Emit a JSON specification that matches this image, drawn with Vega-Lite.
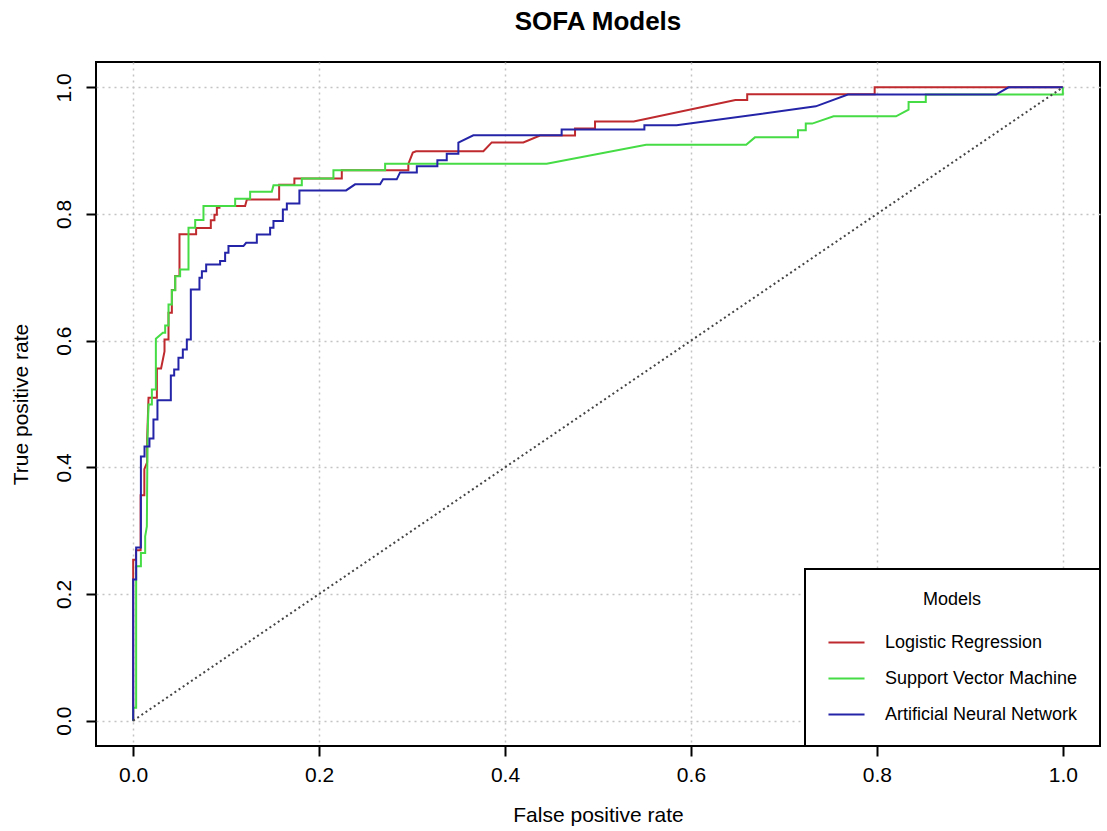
{
  "$schema": "https://vega.github.io/schema/vega-lite/v6.json",
  "width": 1004,
  "height": 684,
  "autosize": {"type": "none"},
  "padding": {"left": 96, "top": 62, "right": 7, "bottom": 85},
  "background": "white",
  "config": {
    "font": "Liberation Sans",
    "view": {"stroke": "black", "strokeWidth": 2},
    "axis": {
      "zindex": 1,
      "domain": false,
      "grid": true,
      "gridColor": "#c4c4c4",
      "gridDash": [2, 4],
      "gridWidth": 1.5,
      "tickColor": "black",
      "tickWidth": 2,
      "tickSize": 10,
      "labelFontSize": 21,
      "labelColor": "black",
      "titleFontSize": 21,
      "titleFontWeight": "normal",
      "titleColor": "black",
      "labelFont": "Liberation Sans",
      "titleFont": "Liberation Sans"
    }
  },
  "title": {"text": "SOFA Models", "fontSize": 26, "fontWeight": "bold", "color": "black", "offset": 27, "anchor": "middle", "font": "Liberation Sans"},
  "layer": [
    {
      "data": {"values": [
        {"model":"Logistic Regression","step":1,"fpr":0,"tpr":0},
        {"model":"Logistic Regression","step":2,"fpr":0,"tpr":0.254},
        {"model":"Logistic Regression","step":3,"fpr":0.003,"tpr":0.254},
        {"model":"Logistic Regression","step":4,"fpr":0.003,"tpr":0.269},
        {"model":"Logistic Regression","step":5,"fpr":0.008,"tpr":0.269},
        {"model":"Logistic Regression","step":6,"fpr":0.008,"tpr":0.356},
        {"model":"Logistic Regression","step":7,"fpr":0.012,"tpr":0.356},
        {"model":"Logistic Regression","step":8,"fpr":0.012,"tpr":0.397},
        {"model":"Logistic Regression","step":9,"fpr":0.015,"tpr":0.408},
        {"model":"Logistic Regression","step":10,"fpr":0.015,"tpr":0.444},
        {"model":"Logistic Regression","step":11,"fpr":0.0165,"tpr":0.51},
        {"model":"Logistic Regression","step":12,"fpr":0.0255,"tpr":0.51},
        {"model":"Logistic Regression","step":13,"fpr":0.0255,"tpr":0.556},
        {"model":"Logistic Regression","step":14,"fpr":0.03,"tpr":0.556},
        {"model":"Logistic Regression","step":15,"fpr":0.0337,"tpr":0.583},
        {"model":"Logistic Regression","step":16,"fpr":0.0337,"tpr":0.602},
        {"model":"Logistic Regression","step":17,"fpr":0.038,"tpr":0.602},
        {"model":"Logistic Regression","step":18,"fpr":0.038,"tpr":0.644},
        {"model":"Logistic Regression","step":19,"fpr":0.0416,"tpr":0.644},
        {"model":"Logistic Regression","step":20,"fpr":0.0416,"tpr":0.68},
        {"model":"Logistic Regression","step":21,"fpr":0.0452,"tpr":0.68},
        {"model":"Logistic Regression","step":22,"fpr":0.0452,"tpr":0.702},
        {"model":"Logistic Regression","step":23,"fpr":0.0498,"tpr":0.702},
        {"model":"Logistic Regression","step":24,"fpr":0.0498,"tpr":0.768},
        {"model":"Logistic Regression","step":25,"fpr":0.0677,"tpr":0.768},
        {"model":"Logistic Regression","step":26,"fpr":0.0677,"tpr":0.778},
        {"model":"Logistic Regression","step":27,"fpr":0.0835,"tpr":0.778},
        {"model":"Logistic Regression","step":28,"fpr":0.0835,"tpr":0.79},
        {"model":"Logistic Regression","step":29,"fpr":0.0874,"tpr":0.79},
        {"model":"Logistic Regression","step":30,"fpr":0.0874,"tpr":0.799},
        {"model":"Logistic Regression","step":31,"fpr":0.09,"tpr":0.799},
        {"model":"Logistic Regression","step":32,"fpr":0.09,"tpr":0.81},
        {"model":"Logistic Regression","step":33,"fpr":0.0928,"tpr":0.81},
        {"model":"Logistic Regression","step":34,"fpr":0.0928,"tpr":0.8125},
        {"model":"Logistic Regression","step":35,"fpr":0.1204,"tpr":0.8125},
        {"model":"Logistic Regression","step":36,"fpr":0.1223,"tpr":0.823},
        {"model":"Logistic Regression","step":37,"fpr":0.157,"tpr":0.823},
        {"model":"Logistic Regression","step":38,"fpr":0.157,"tpr":0.846},
        {"model":"Logistic Regression","step":39,"fpr":0.1734,"tpr":0.846},
        {"model":"Logistic Regression","step":40,"fpr":0.1734,"tpr":0.856},
        {"model":"Logistic Regression","step":41,"fpr":0.2244,"tpr":0.856},
        {"model":"Logistic Regression","step":42,"fpr":0.2244,"tpr":0.869},
        {"model":"Logistic Regression","step":43,"fpr":0.296,"tpr":0.869},
        {"model":"Logistic Regression","step":44,"fpr":0.296,"tpr":0.879},
        {"model":"Logistic Regression","step":45,"fpr":0.3008,"tpr":0.897},
        {"model":"Logistic Regression","step":46,"fpr":0.3043,"tpr":0.899},
        {"model":"Logistic Regression","step":47,"fpr":0.3767,"tpr":0.899},
        {"model":"Logistic Regression","step":48,"fpr":0.3857,"tpr":0.913},
        {"model":"Logistic Regression","step":49,"fpr":0.4197,"tpr":0.913},
        {"model":"Logistic Regression","step":50,"fpr":0.4376,"tpr":0.924},
        {"model":"Logistic Regression","step":51,"fpr":0.4753,"tpr":0.924},
        {"model":"Logistic Regression","step":52,"fpr":0.4753,"tpr":0.935},
        {"model":"Logistic Regression","step":53,"fpr":0.4968,"tpr":0.935},
        {"model":"Logistic Regression","step":54,"fpr":0.4968,"tpr":0.946},
        {"model":"Logistic Regression","step":55,"fpr":0.5384,"tpr":0.946},
        {"model":"Logistic Regression","step":56,"fpr":0.6478,"tpr":0.98},
        {"model":"Logistic Regression","step":57,"fpr":0.6605,"tpr":0.98},
        {"model":"Logistic Regression","step":58,"fpr":0.6605,"tpr":0.989},
        {"model":"Logistic Regression","step":59,"fpr":0.7976,"tpr":0.989},
        {"model":"Logistic Regression","step":60,"fpr":0.7976,"tpr":1},
        {"model":"Logistic Regression","step":61,"fpr":1,"tpr":1},

        {"model":"Support Vector Machine","step":1,"fpr":0,"tpr":0},
        {"model":"Support Vector Machine","step":2,"fpr":0,"tpr":0.0205},
        {"model":"Support Vector Machine","step":3,"fpr":0.0032,"tpr":0.0205},
        {"model":"Support Vector Machine","step":4,"fpr":0.0032,"tpr":0.2438},
        {"model":"Support Vector Machine","step":5,"fpr":0.0083,"tpr":0.2438},
        {"model":"Support Vector Machine","step":6,"fpr":0.0083,"tpr":0.2649},
        {"model":"Support Vector Machine","step":7,"fpr":0.0129,"tpr":0.2649},
        {"model":"Support Vector Machine","step":8,"fpr":0.0129,"tpr":0.2912},
        {"model":"Support Vector Machine","step":9,"fpr":0.0147,"tpr":0.3069},
        {"model":"Support Vector Machine","step":10,"fpr":0.0154,"tpr":0.4439},
        {"model":"Support Vector Machine","step":11,"fpr":0.0165,"tpr":0.4992},
        {"model":"Support Vector Machine","step":12,"fpr":0.0201,"tpr":0.4992},
        {"model":"Support Vector Machine","step":13,"fpr":0.0201,"tpr":0.5229},
        {"model":"Support Vector Machine","step":14,"fpr":0.0244,"tpr":0.5229},
        {"model":"Support Vector Machine","step":15,"fpr":0.0244,"tpr":0.603},
        {"model":"Support Vector Machine","step":16,"fpr":0.0319,"tpr":0.6125},
        {"model":"Support Vector Machine","step":17,"fpr":0.0344,"tpr":0.6125},
        {"model":"Support Vector Machine","step":18,"fpr":0.0344,"tpr":0.624},
        {"model":"Support Vector Machine","step":19,"fpr":0.038,"tpr":0.624},
        {"model":"Support Vector Machine","step":20,"fpr":0.038,"tpr":0.6572},
        {"model":"Support Vector Machine","step":21,"fpr":0.0416,"tpr":0.6572},
        {"model":"Support Vector Machine","step":22,"fpr":0.0416,"tpr":0.6798},
        {"model":"Support Vector Machine","step":23,"fpr":0.0452,"tpr":0.6798},
        {"model":"Support Vector Machine","step":24,"fpr":0.0452,"tpr":0.7019},
        {"model":"Support Vector Machine","step":25,"fpr":0.0505,"tpr":0.7019},
        {"model":"Support Vector Machine","step":26,"fpr":0.0505,"tpr":0.7125},
        {"model":"Support Vector Machine","step":27,"fpr":0.0595,"tpr":0.7125},
        {"model":"Support Vector Machine","step":28,"fpr":0.0595,"tpr":0.7783},
        {"model":"Support Vector Machine","step":29,"fpr":0.0667,"tpr":0.7783},
        {"model":"Support Vector Machine","step":30,"fpr":0.0667,"tpr":0.7904},
        {"model":"Support Vector Machine","step":31,"fpr":0.0756,"tpr":0.7904},
        {"model":"Support Vector Machine","step":32,"fpr":0.0756,"tpr":0.8125},
        {"model":"Support Vector Machine","step":33,"fpr":0.1097,"tpr":0.8125},
        {"model":"Support Vector Machine","step":34,"fpr":0.1097,"tpr":0.8242},
        {"model":"Support Vector Machine","step":35,"fpr":0.1258,"tpr":0.8242},
        {"model":"Support Vector Machine","step":36,"fpr":0.1258,"tpr":0.8352},
        {"model":"Support Vector Machine","step":37,"fpr":0.1491,"tpr":0.8352},
        {"model":"Support Vector Machine","step":38,"fpr":0.1509,"tpr":0.8452},
        {"model":"Support Vector Machine","step":39,"fpr":0.1814,"tpr":0.8452},
        {"model":"Support Vector Machine","step":40,"fpr":0.1814,"tpr":0.8562},
        {"model":"Support Vector Machine","step":41,"fpr":0.2154,"tpr":0.8562},
        {"model":"Support Vector Machine","step":42,"fpr":0.2154,"tpr":0.8689},
        {"model":"Support Vector Machine","step":43,"fpr":0.271,"tpr":0.8689},
        {"model":"Support Vector Machine","step":44,"fpr":0.271,"tpr":0.8794},
        {"model":"Support Vector Machine","step":45,"fpr":0.4448,"tpr":0.8794},
        {"model":"Support Vector Machine","step":46,"fpr":0.5518,"tpr":0.9095},
        {"model":"Support Vector Machine","step":47,"fpr":0.6594,"tpr":0.9095},
        {"model":"Support Vector Machine","step":48,"fpr":0.6688,"tpr":0.921},
        {"model":"Support Vector Machine","step":49,"fpr":0.7151,"tpr":0.921},
        {"model":"Support Vector Machine","step":50,"fpr":0.7151,"tpr":0.9321},
        {"model":"Support Vector Machine","step":51,"fpr":0.7235,"tpr":0.9321},
        {"model":"Support Vector Machine","step":52,"fpr":0.7235,"tpr":0.9427},
        {"model":"Support Vector Machine","step":53,"fpr":0.7304,"tpr":0.9427},
        {"model":"Support Vector Machine","step":54,"fpr":0.7534,"tpr":0.9542},
        {"model":"Support Vector Machine","step":55,"fpr":0.8206,"tpr":0.9542},
        {"model":"Support Vector Machine","step":56,"fpr":0.8341,"tpr":0.9648},
        {"model":"Support Vector Machine","step":57,"fpr":0.8341,"tpr":0.9768},
        {"model":"Support Vector Machine","step":58,"fpr":0.8526,"tpr":0.9768},
        {"model":"Support Vector Machine","step":59,"fpr":0.8526,"tpr":0.9885},
        {"model":"Support Vector Machine","step":60,"fpr":1,"tpr":0.9885},
        {"model":"Support Vector Machine","step":61,"fpr":1,"tpr":1},

        {"model":"Artificial Neural Network","step":1,"fpr":0,"tpr":0},
        {"model":"Artificial Neural Network","step":2,"fpr":0,"tpr":0.2227},
        {"model":"Artificial Neural Network","step":3,"fpr":0.0032,"tpr":0.2227},
        {"model":"Artificial Neural Network","step":4,"fpr":0.0032,"tpr":0.2733},
        {"model":"Artificial Neural Network","step":5,"fpr":0.0083,"tpr":0.2733},
        {"model":"Artificial Neural Network","step":6,"fpr":0.0083,"tpr":0.4171},
        {"model":"Artificial Neural Network","step":7,"fpr":0.0122,"tpr":0.4171},
        {"model":"Artificial Neural Network","step":8,"fpr":0.0122,"tpr":0.4329},
        {"model":"Artificial Neural Network","step":9,"fpr":0.0175,"tpr":0.4329},
        {"model":"Artificial Neural Network","step":10,"fpr":0.0175,"tpr":0.4455},
        {"model":"Artificial Neural Network","step":11,"fpr":0.0218,"tpr":0.4455},
        {"model":"Artificial Neural Network","step":12,"fpr":0.0218,"tpr":0.4755},
        {"model":"Artificial Neural Network","step":13,"fpr":0.0261,"tpr":0.4755},
        {"model":"Artificial Neural Network","step":14,"fpr":0.0261,"tpr":0.506},
        {"model":"Artificial Neural Network","step":15,"fpr":0.0405,"tpr":0.506},
        {"model":"Artificial Neural Network","step":16,"fpr":0.0405,"tpr":0.545},
        {"model":"Artificial Neural Network","step":17,"fpr":0.0441,"tpr":0.545},
        {"model":"Artificial Neural Network","step":18,"fpr":0.0441,"tpr":0.5545},
        {"model":"Artificial Neural Network","step":19,"fpr":0.0487,"tpr":0.5545},
        {"model":"Artificial Neural Network","step":20,"fpr":0.0487,"tpr":0.573},
        {"model":"Artificial Neural Network","step":21,"fpr":0.0534,"tpr":0.573},
        {"model":"Artificial Neural Network","step":22,"fpr":0.0534,"tpr":0.5861},
        {"model":"Artificial Neural Network","step":23,"fpr":0.0577,"tpr":0.5861},
        {"model":"Artificial Neural Network","step":24,"fpr":0.0577,"tpr":0.6019},
        {"model":"Artificial Neural Network","step":25,"fpr":0.062,"tpr":0.6019},
        {"model":"Artificial Neural Network","step":26,"fpr":0.062,"tpr":0.6809},
        {"model":"Artificial Neural Network","step":27,"fpr":0.0713,"tpr":0.6809},
        {"model":"Artificial Neural Network","step":28,"fpr":0.0713,"tpr":0.6994},
        {"model":"Artificial Neural Network","step":29,"fpr":0.0739,"tpr":0.6994},
        {"model":"Artificial Neural Network","step":30,"fpr":0.0739,"tpr":0.7098},
        {"model":"Artificial Neural Network","step":31,"fpr":0.0785,"tpr":0.7098},
        {"model":"Artificial Neural Network","step":32,"fpr":0.0785,"tpr":0.7204},
        {"model":"Artificial Neural Network","step":33,"fpr":0.0935,"tpr":0.7204},
        {"model":"Artificial Neural Network","step":34,"fpr":0.0935,"tpr":0.7256},
        {"model":"Artificial Neural Network","step":35,"fpr":0.0989,"tpr":0.7256},
        {"model":"Artificial Neural Network","step":36,"fpr":0.0989,"tpr":0.7389},
        {"model":"Artificial Neural Network","step":37,"fpr":0.1025,"tpr":0.7389},
        {"model":"Artificial Neural Network","step":38,"fpr":0.1025,"tpr":0.7493},
        {"model":"Artificial Neural Network","step":39,"fpr":0.1186,"tpr":0.7493},
        {"model":"Artificial Neural Network","step":40,"fpr":0.1215,"tpr":0.7546},
        {"model":"Artificial Neural Network","step":41,"fpr":0.133,"tpr":0.7546},
        {"model":"Artificial Neural Network","step":42,"fpr":0.133,"tpr":0.7678},
        {"model":"Artificial Neural Network","step":43,"fpr":0.1473,"tpr":0.7678},
        {"model":"Artificial Neural Network","step":44,"fpr":0.1473,"tpr":0.7783},
        {"model":"Artificial Neural Network","step":45,"fpr":0.1509,"tpr":0.7783},
        {"model":"Artificial Neural Network","step":46,"fpr":0.1509,"tpr":0.7888},
        {"model":"Artificial Neural Network","step":47,"fpr":0.161,"tpr":0.7888},
        {"model":"Artificial Neural Network","step":48,"fpr":0.161,"tpr":0.8073},
        {"model":"Artificial Neural Network","step":49,"fpr":0.1653,"tpr":0.8073},
        {"model":"Artificial Neural Network","step":50,"fpr":0.1653,"tpr":0.8167},
        {"model":"Artificial Neural Network","step":51,"fpr":0.1788,"tpr":0.8167},
        {"model":"Artificial Neural Network","step":52,"fpr":0.1788,"tpr":0.8373},
        {"model":"Artificial Neural Network","step":53,"fpr":0.229,"tpr":0.8373},
        {"model":"Artificial Neural Network","step":54,"fpr":0.2387,"tpr":0.8468},
        {"model":"Artificial Neural Network","step":55,"fpr":0.2656,"tpr":0.8468},
        {"model":"Artificial Neural Network","step":56,"fpr":0.2688,"tpr":0.8547},
        {"model":"Artificial Neural Network","step":57,"fpr":0.2835,"tpr":0.8547},
        {"model":"Artificial Neural Network","step":58,"fpr":0.2871,"tpr":0.8657},
        {"model":"Artificial Neural Network","step":59,"fpr":0.3051,"tpr":0.8657},
        {"model":"Artificial Neural Network","step":60,"fpr":0.3051,"tpr":0.8752},
        {"model":"Artificial Neural Network","step":61,"fpr":0.3272,"tpr":0.8752},
        {"model":"Artificial Neural Network","step":62,"fpr":0.3272,"tpr":0.8847},
        {"model":"Artificial Neural Network","step":63,"fpr":0.3373,"tpr":0.8847},
        {"model":"Artificial Neural Network","step":64,"fpr":0.3373,"tpr":0.8953},
        {"model":"Artificial Neural Network","step":65,"fpr":0.3498,"tpr":0.8953},
        {"model":"Artificial Neural Network","step":66,"fpr":0.3498,"tpr":0.9126},
        {"model":"Artificial Neural Network","step":67,"fpr":0.3659,"tpr":0.9242},
        {"model":"Artificial Neural Network","step":68,"fpr":0.4609,"tpr":0.9242},
        {"model":"Artificial Neural Network","step":69,"fpr":0.4609,"tpr":0.9336},
        {"model":"Artificial Neural Network","step":70,"fpr":0.5499,"tpr":0.9336},
        {"model":"Artificial Neural Network","step":71,"fpr":0.5499,"tpr":0.94},
        {"model":"Artificial Neural Network","step":72,"fpr":0.5845,"tpr":0.94},
        {"model":"Artificial Neural Network","step":73,"fpr":0.7343,"tpr":0.97},
        {"model":"Artificial Neural Network","step":74,"fpr":0.7688,"tpr":0.9885},
        {"model":"Artificial Neural Network","step":75,"fpr":0.9282,"tpr":0.9885},
        {"model":"Artificial Neural Network","step":76,"fpr":0.9416,"tpr":1},
        {"model":"Artificial Neural Network","step":77,"fpr":1,"tpr":1}
      ]},
      "mark": {"type": "line", "strokeWidth": 2, "clip": true},
      "encoding": {
        "x": {
          "field": "fpr", "type": "quantitative",
          "scale": {"domain": [-0.04, 1.04], "nice": false, "zero": false},
          "axis": {"values": [0, 0.2, 0.4, 0.6, 0.8, 1], "format": ".1f", "title": "False positive rate", "labelPadding": 8, "titlePadding": 19}
        },
        "y": {
          "field": "tpr", "type": "quantitative",
          "scale": {"domain": [-0.04, 1.04], "nice": false, "zero": false},
          "axis": {"values": [0, 0.2, 0.4, 0.6, 0.8, 1], "format": ".1f", "title": "True positive rate", "labelAngle": -90, "labelAlign": "center", "labelBaseline": "bottom", "labelPadding": 12, "titlePadding": 22}
        },
        "color": {
          "field": "model", "type": "nominal",
          "scale": {
            "domain": ["Logistic Regression", "Support Vector Machine", "Artificial Neural Network"],
            "range": ["#BE2A2E", "#45DC45", "#2424A8"]
          },
          "legend": {
            "title": "Models",
            "orient": "bottom-right",
            "offset": 0,
            "zindex": 2,
            "fillColor": "white",
            "strokeColor": "black",
            "padding": 22,
            "titleFontSize": 18,
            "titleFontWeight": "normal",
            "titleColor": "black",
            "titleAnchor": "middle",
            "titleAlign": "center",
            "titlePadding": 14,
            "labelFontSize": 18,
            "labelColor": "black",
            "labelOffset": 19,
            "labelLimit": 400,
            "symbolType": "stroke",
            "symbolStrokeWidth": 2,
            "symbolSize": 1300,
            "rowPadding": 7,
            "encode": {"legend": {"update": {"strokeWidth": {"value": 2}}}}
          }
        },
        "order": {"field": "step", "type": "quantitative"}
      }
    },
    {
      "data": {"values": [{"fpr": 0, "tpr": 0}, {"fpr": 1, "tpr": 1}]},
      "mark": {"type": "line", "color": "#444444", "strokeWidth": 2, "strokeDash": [2, 3]},
      "encoding": {
        "x": {"field": "fpr", "type": "quantitative"},
        "y": {"field": "tpr", "type": "quantitative"}
      }
    }
  ]
}
